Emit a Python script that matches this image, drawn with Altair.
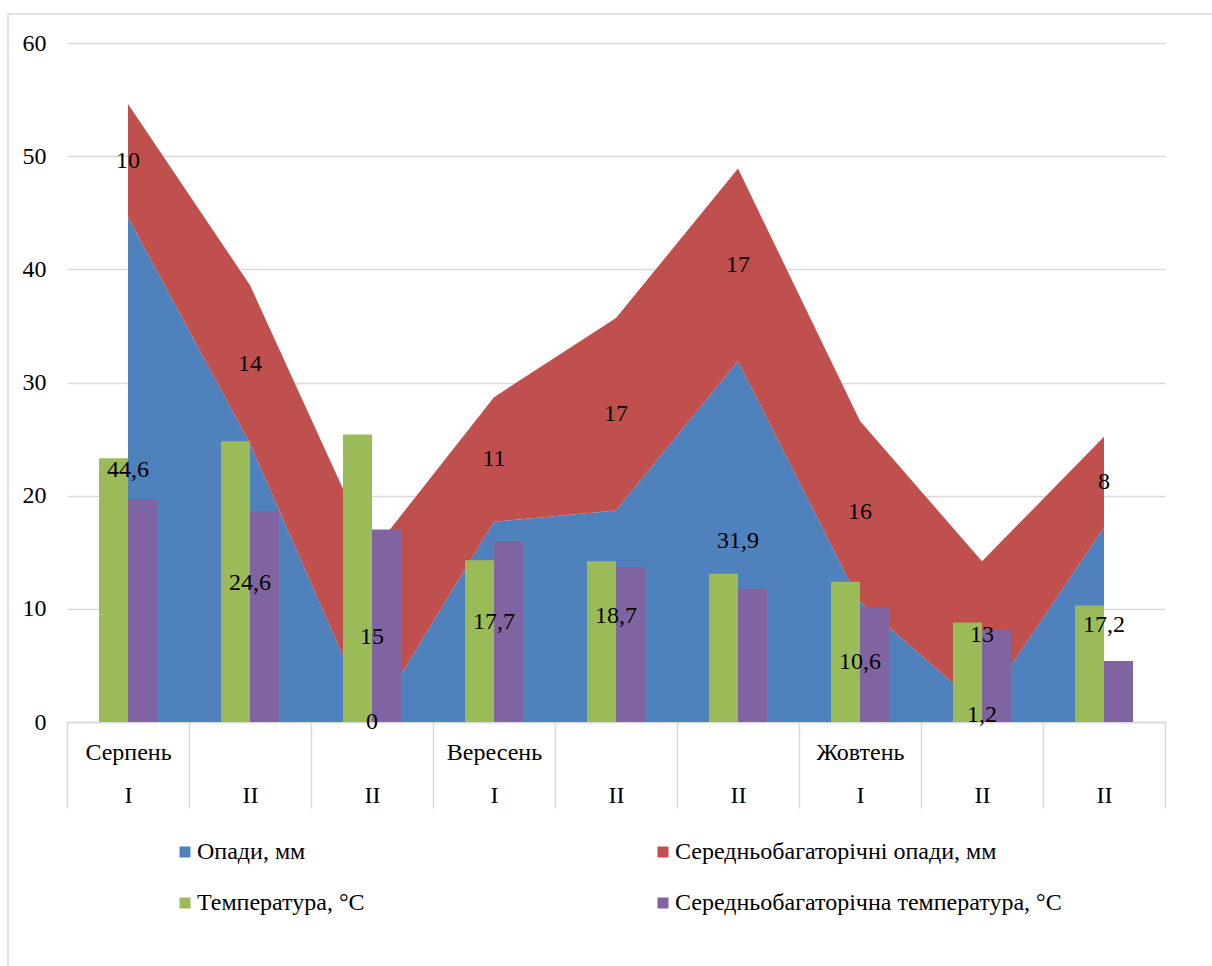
import json
import altair as alt
import pandas as pd

# Decade (десятиденка) categories: month name shown on the first decade only
months = ["Серпень", "", "", "Вересень", "", "", "Жовтень", "", ""]
decades = ["I", "II", "II", "I", "II", "II", "I", "II", "II"]

# Precipitation, mm (stacked areas)
precip = [44.6, 24.6, 0, 17.7, 18.7, 31.9, 10.6, 1.2, 17.2]
precip_norm = [10, 14, 15, 11, 17, 17, 16, 13, 8]

# Temperature, °C (clustered bars)
temp = [23.3, 24.8, 25.4, 14.3, 14.2, 13.1, 12.4, 8.8, 10.3]
temp_norm = [19.7, 18.6, 17.0, 16.0, 13.7, 11.8, 10.1, 8.1, 5.4]

S_P = "Опади, мм"
S_PN = "Середньобагаторічні опади, мм"
S_T = "Температура, °C"
S_TN = "Середньобагаторічна температура, °C"
series_names = [S_P, S_PN, S_T, S_TN]
series_colors = ["#4F81BD", "#C0504D", "#9BBB59", "#8064A2"]

FONT = "'Liberation Serif', 'Times New Roman', Times, serif"
FS = 24
GRID = "#D9D9D9"

idx = list(range(len(decades)))


def fmt(v):
    return f"{v:g}".replace(".", ",")


area_df = pd.DataFrame(
    [{"idx": i, "series": S_P, "value": v, "ord": 0} for i, v in zip(idx, precip)]
    + [{"idx": i, "series": S_PN, "value": v, "ord": 1} for i, v in zip(idx, precip_norm)]
)
bar_df = pd.DataFrame(
    [{"idx": i, "series": S_T, "value": v} for i, v in zip(idx, temp)]
    + [{"idx": i, "series": S_TN, "value": v} for i, v in zip(idx, temp_norm)]
)
# value labels sit in the middle of each stacked band
label_df = pd.DataFrame(
    [{"idx": i, "mid": p / 2, "txt": fmt(p)} for i, p in zip(idx, precip)]
    + [{"idx": i, "mid": p + n / 2, "txt": fmt(n)} for i, p, n in zip(idx, precip, precip_norm)]
)

label_expr = (
    f"[{json.dumps(months, ensure_ascii=False)}[datum.value], "
    f"{json.dumps(decades, ensure_ascii=False)}[datum.value]]"
)

x_scale = alt.Scale(type="band", paddingInner=0, paddingOuter=0)
y_scale = alt.Scale(domain=[0, 60], nice=False)
color = alt.Color(
    "series:N",
    scale=alt.Scale(domain=series_names, range=series_colors),
    legend=alt.Legend(
        title=None,
        orient="none",
        direction="horizontal",
        legendX=106,
        legendY=797,
        columns=2,
        columnPadding=286,
        rowPadding=27,
        symbolType="square",
        symbolSize=121,
        symbolStrokeWidth=0,
        labelFont=FONT,
        labelFontSize=FS,
        labelColor="#000000",
        labelOffset=0,
        labelLimit=0,
        padding=0,
    ),
)

x_axis = alt.Axis(
    title=None,
    labelExpr=label_expr,
    labelAngle=0,
    labelAlign="center",
    labelBaseline="top",
    labelLineHeight=43,
    labelPadding=-68,
    labelFont=FONT,
    labelFontSize=FS,
    labelColor="#000000",
    tickBand="extent",
    tickSize=86,
    tickColor=GRID,
    tickWidth=1.5,
    domainColor=GRID,
    domainWidth=1.5,
    grid=False,
)
y_axis = alt.Axis(
    title=None,
    values=[0, 10, 20, 30, 40, 50, 60],
    ticks=False,
    domain=False,
    labelPadding=21,
    labelFont=FONT,
    labelFontSize=FS,
    labelColor="#000000",
    gridColor=GRID,
    gridWidth=1.5,
)

frame = (
    alt.Chart(alt.Data(values=[{"f": 1}]))
    .mark_rect(fill=None, stroke=GRID, strokeWidth=1.5)
    .encode(x=alt.value(-59), x2=alt.value(1170), y=alt.value(-29), y2=alt.value(950))
)

areas = (
    alt.Chart(area_df)
    .mark_area(interpolate="linear")
    .encode(
        x=alt.X("idx:O", scale=x_scale, axis=x_axis),
        y=alt.Y("value:Q", stack="zero", scale=y_scale, axis=y_axis),
        color=color,
        order=alt.Order("ord:Q"),
    )
)

# two bars per decade, 29 px each, centred in the 122 px category cell
bars = (
    alt.Chart(bar_df)
    .mark_bar()
    .encode(
        x=alt.X("idx:O", scale=x_scale),
        xOffset=alt.XOffset(
            "series:N",
            scale=alt.Scale(domain=[S_T, S_TN], range=[32, 90], paddingInner=0, paddingOuter=0),
        ),
        y=alt.Y("value:Q", scale=y_scale),
        color=color,
    )
)

labels = (
    alt.Chart(label_df)
    .mark_text(font=FONT, fontSize=FS, color="#000000", baseline="middle", align="center")
    .encode(
        x=alt.X("idx:O", scale=x_scale),
        y=alt.Y("mid:Q", scale=y_scale),
        text="txt:N",
    )
)

chart = (
    alt.layer(frame, areas, bars, labels)
    .properties(
        width=1098,
        height=679,
        background="white",
        autosize=alt.AutoSizeParams(type="none"),
        padding={"left": 67, "top": 43, "right": 47, "bottom": 244},
    )
    .configure_view(stroke="transparent", strokeWidth=0)
)

chart.save("out.html", embed_options={"renderer": "svg", "actions": False})
